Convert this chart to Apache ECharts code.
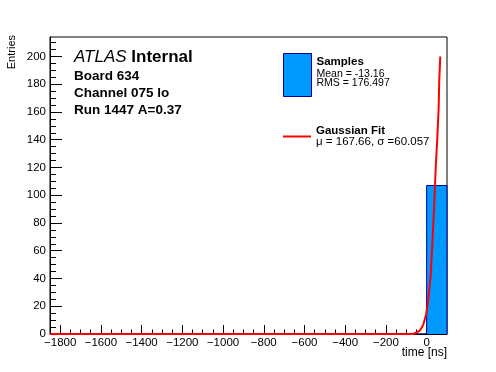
<!DOCTYPE html>
<html>
<head>
<meta charset="utf-8">
<script src="https://cdn.jsdelivr.net/npm/echarts@6/dist/echarts.min.js"></script>
<style>
html,body{margin:0;padding:0;background:#fff;}
#chart{width:496px;height:372px;}
</style>
</head>
<body>
<div id="chart"></div>
<script>
// ---- data ----
const xRange = [-1850, 100];
const yRange = [0, 214];
const xTickValues = [-1800, -1600, -1400, -1200, -1000, -800, -600, -400, -200, 0];
const yTickValues = [0, 20, 40, 60, 80, 100, 120, 140, 160, 180, 200];
const binEdges = [-1850, 0, 100];
const binCounts = [0, 107];
const fitX = [-1850, -66, -49, -33, -17, -3, 8, 20, 27.5, 37.3, 44, 52, 59, 62, 67];
const fitY = [0, 0, 1.1, 2.5, 6.5, 13.7, 24.5, 42.5, 64, 93, 118, 140, 163, 183, 200];
const histName = 'Samples';
const histStats = ['Mean = -13.16', 'RMS = 176.497'];
const fitName = 'Gaussian Fit';
const fitStats = ['\u03bc = 167.66, \u03c3 =60.057'];
const headerBrand = ['ATLAS', 'Internal'];
const infoLines = ['Board 634', 'Channel 075 lo', 'Run 1447 A=0.37'];
const xTitle = 'time [ns]';
const yTitle = 'Entries';

// ---- build ----
const FONT = 'Liberation Sans, Arial, Helvetica, sans-serif';
const histPath = [[binEdges[0], 0]];
for (let i = 0; i < binCounts.length; i++) {
  histPath.push([binEdges[i], binCounts[i]]);
  histPath.push([binEdges[i + 1], binCounts[i]]);
}
histPath.push([binEdges[binEdges.length - 1], 0]);
const fitData = fitX.map((x, i) => [x, fitY[i]]);

const xMinor = [];
for (let v = -1800; v < xRange[1]; v += 50) if (v % 200 !== 0) xMinor.push(v);
const yMinor = [];
for (let v = 5; v < yRange[1]; v += 5) if (v % 20 !== 0) yMinor.push(v);

const minus = v => String(v).replace('-', '\u2212');

const infoTitles = infoLines.map((t, i) => ({
  text: t, left: 74, top: 69.3 + i * 17, padding: 0,
  textStyle: {fontFamily: FONT, fontSize: 13.5, fontWeight: 'bold', color: '#000'}
}));

const option = {
  animation: false,
  textStyle: {fontFamily: FONT},
  title: [{
    text: '{i|' + headerBrand[0] + '}{b| ' + headerBrand[1] + '}',
    left: 74, top: 49, padding: 0,
    textStyle: {fontFamily: FONT, fontSize: 17, color: '#000',
      rich: {
        i: {fontFamily: FONT, fontSize: 17, fontStyle: 'italic', fontWeight: 'normal', color: '#000'},
        b: {fontFamily: FONT, fontSize: 17, fontWeight: 'bold', color: '#000'}
      }}
  }].concat(infoTitles),
  legend: [{
    data: [{name: histName, icon: 'rect'}],
    left: 283, top: 53, padding: 0, selectedMode: false,
    itemWidth: 28, itemHeight: 43,
    itemStyle: {color: '#0099ff', borderColor: '#000099', borderWidth: 1},
    formatter: n => '{b|' + n + '}\n' + histStats.map(s => '{n|' + s + '}').join('\n') + '\n{sp| }',
    textStyle: {fontFamily: FONT, color: '#000', rich: {
      b: {fontFamily: FONT, fontSize: 11.5, fontWeight: 'bold', lineHeight: 15, color: '#000'},
      n: {fontFamily: FONT, fontSize: 10.5, lineHeight: 9.5, color: '#000'},
      sp: {fontSize: 8, lineHeight: 8}
    }}
  }, {
    data: [{name: fitName, icon: 'rect'}],
    left: 283, top: 125, padding: 0, selectedMode: false,
    itemWidth: 28, itemHeight: 2,
    itemStyle: {color: '#ff0000', borderWidth: 0},
    formatter: n => '{b|' + n + '}\n' + fitStats.map(s => '{n|' + s + '}').join('\n'),
    textStyle: {fontFamily: FONT, color: '#000', rich: {
      b: {fontFamily: FONT, fontSize: 11.5, fontWeight: 'bold', lineHeight: 11, color: '#000'},
      n: {fontFamily: FONT, fontSize: 11.5, lineHeight: 11, color: '#000'}
    }}
  }],
  grid: {left: 50, right: 49, top: 37, bottom: 38, show: true, borderColor: '#000', borderWidth: 1, backgroundColor: 'transparent'},
  xAxis: [{
    type: 'value', min: xRange[0], max: xRange[1], position: 'bottom',
    name: xTitle, nameLocation: 'end', nameGap: 0, nameMoveOverlap: false,
    nameTextStyle: {fontFamily: FONT, fontSize: 12, color: '#000', align: 'right', verticalAlign: 'top', padding: [13, 0, 0, 0]},
    axisLine: {show: true, onZero: false, lineStyle: {color: '#000', width: 1}},
    axisTick: {show: true, inside: true, length: 9, customValues: xTickValues, lineStyle: {color: '#000'}},
    axisLabel: {show: true, customValues: xTickValues, margin: 3, color: '#000', fontSize: 11.5, fontFamily: FONT, formatter: minus},
    splitLine: {show: false}
  }, {
    type: 'value', min: xRange[0], max: xRange[1], position: 'bottom', offset: 0,
    axisLine: {show: false, onZero: false},
    axisTick: {show: true, inside: true, length: 4.5, customValues: xMinor, lineStyle: {color: '#000'}},
    axisLabel: {show: false},
    splitLine: {show: false}
  }],
  yAxis: [{
    type: 'value', min: yRange[0], max: yRange[1], position: 'left',
    name: yTitle, nameLocation: 'end', nameGap: 2, nameRotate: 90, nameMoveOverlap: false,
    nameTextStyle: {fontFamily: FONT, fontSize: 11, color: '#000', align: 'right', verticalAlign: 'bottom', padding: [0, 0, 33, 0]},
    axisLine: {show: true, onZero: false, lineStyle: {color: '#000', width: 1}},
    axisTick: {show: true, inside: true, length: 12, customValues: yTickValues, lineStyle: {color: '#000'}},
    axisLabel: {show: true, customValues: yTickValues, margin: 4, color: '#000', fontSize: 11.5, fontFamily: FONT},
    splitLine: {show: false}
  }, {
    type: 'value', min: yRange[0], max: yRange[1], position: 'left', offset: 0,
    axisLine: {show: false, onZero: false},
    axisTick: {show: true, inside: true, length: 6, customValues: yMinor, lineStyle: {color: '#000'}},
    axisLabel: {show: false},
    splitLine: {show: false}
  }],
  series: [{
    name: histName, type: 'line', xAxisIndex: 0, yAxisIndex: 0,
    data: histPath, symbol: 'none', z: 2,
    itemStyle: {color: '#0099ff'},
    lineStyle: {color: '#000099', width: 1},
    areaStyle: {color: '#0099ff', opacity: 1, origin: 'start'}
  }, {
    name: fitName, type: 'line', xAxisIndex: 0, yAxisIndex: 0,
    data: fitData, symbol: 'none', z: 3,
    itemStyle: {color: '#ff0000'},
    lineStyle: {color: '#ff0000', width: 2}
  }]
};

const chart = echarts.init(document.getElementById('chart'), null, {renderer: 'canvas'});
chart.setOption(option);
</script>
</body>
</html>
